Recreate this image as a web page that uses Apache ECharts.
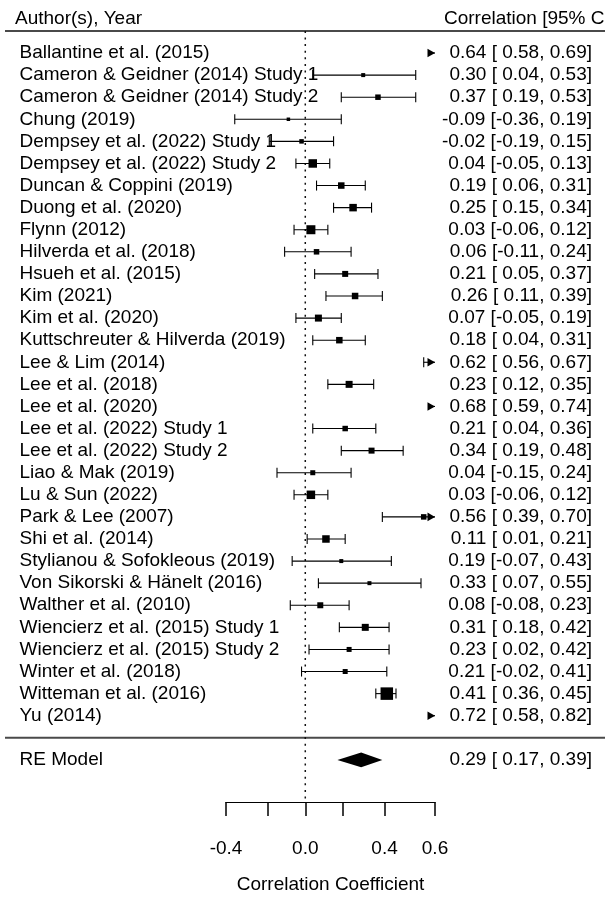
<!DOCTYPE html>
<html><head><meta charset="utf-8">
<script src="https://cdn.jsdelivr.net/npm/echarts@6/dist/echarts.min.js"></script>
<style>html,body{margin:0;padding:0;background:#fff}#c{width:605px;height:904px}</style>
</head><body><div id="c"></div>
<script>
const studies = [
  "Ballantine et al. (2015)",
  "Cameron & Geidner (2014) Study 1",
  "Cameron & Geidner (2014) Study 2",
  "Chung (2019)",
  "Dempsey et al. (2022) Study 1",
  "Dempsey et al. (2022) Study 2",
  "Duncan & Coppini (2019)",
  "Duong et al. (2020)",
  "Flynn (2012)",
  "Hilverda et al. (2018)",
  "Hsueh et al. (2015)",
  "Kim (2021)",
  "Kim et al. (2020)",
  "Kuttschreuter & Hilverda (2019)",
  "Lee & Lim (2014)",
  "Lee et al. (2018)",
  "Lee et al. (2020)",
  "Lee et al. (2022) Study 1",
  "Lee et al. (2022) Study 2",
  "Liao & Mak (2019)",
  "Lu & Sun (2022)",
  "Park & Lee (2007)",
  "Shi et al. (2014)",
  "Stylianou & Sofokleous (2019)",
  "Von Sikorski & Hänelt (2016)",
  "Walther et al. (2010)",
  "Wiencierz et al. (2015) Study 1",
  "Wiencierz et al. (2015) Study 2",
  "Winter et al. (2018)",
  "Witteman et al. (2016)",
  "Yu (2014)"
];
const estimates = [0.64, 0.30, 0.37, -0.09, -0.02, 0.04, 0.19, 0.25, 0.03, 0.06, 0.21, 0.26, 0.07, 0.18, 0.62, 0.23, 0.68, 0.21, 0.34, 0.04, 0.03, 0.56, 0.11, 0.19, 0.33, 0.08, 0.31, 0.23, 0.21, 0.41, 0.72];
const lowerCI   = [0.58, 0.04, 0.19, -0.36, -0.19, -0.05, 0.06, 0.15, -0.06, -0.11, 0.05, 0.11, -0.05, 0.04, 0.56, 0.12, 0.59, 0.04, 0.19, -0.15, -0.06, 0.39, 0.01, -0.07, 0.07, -0.08, 0.18, 0.02, -0.02, 0.36, 0.58];
const upperCI   = [0.69, 0.53, 0.53, 0.19, 0.15, 0.13, 0.31, 0.34, 0.12, 0.24, 0.37, 0.39, 0.19, 0.31, 0.67, 0.35, 0.74, 0.36, 0.48, 0.24, 0.12, 0.70, 0.21, 0.43, 0.55, 0.23, 0.42, 0.42, 0.41, 0.45, 0.82];
const weights   = [6.5, 4, 5.5, 3.5, 4.5, 8.5, 6.5, 7.5, 9, 5.5, 6, 6.5, 7, 6.5, 7.5, 7, 6.5, 5.5, 6, 5, 8.5, 5.5, 7.5, 4, 4, 6, 7, 5, 5, 12.5, 4.5];
const pooledLabel = "RE Model";
const pooledEstimate = 0.29;
const pooledLower = 0.17;
const pooledUpper = 0.39;
const tickValues = [-0.4, -0.2, 0.0, 0.2, 0.4, 0.6];
const tickLabelValues = [-0.4, 0.0, 0.4, 0.6];
const headerLeft = "Author(s), Year";
const headerRight = "Correlation [95% CI]";
const axisTitle = "Correlation Coefficient";
const refValue = 0;

// ---- build ----
const FONT = "'Liberation Sans', Arial, Helvetica, sans-serif";
const FS = 19;
const k = studies.length;
const rows = studies.map((_, i) => k - i);
const pooledRow = -1;
const zMin = Math.atanh(tickValues[0]);
const zMax = Math.atanh(tickValues[tickValues.length - 1]);
const f2 = v => v.toFixed(2);
const pad = v => (v < 0 ? f2(v) : " " + f2(v));
const annot = (e, l, u) => f2(e) + " [" + pad(l) + "," + pad(u) + "]";

const leftLabels = {}, rightLabels = {};
rows.forEach((r, i) => {
  leftLabels[r] = studies[i];
  rightLabels[r] = annot(estimates[i], lowerCI[i], upperCI[i]);
});
leftLabels[pooledRow] = pooledLabel;
rightLabels[pooledRow] = annot(pooledEstimate, pooledLower, pooledUpper);
const labelRows = rows.concat([pooledRow]);

const studyData = rows.map((r, i) => [r, Math.atanh(estimates[i]), Math.atanh(lowerCI[i]), Math.atanh(upperCI[i]), weights[i]]);
const pooledData = [[pooledRow, Math.atanh(pooledEstimate), Math.atanh(pooledLower), Math.atanh(pooledUpper)]];

// layout constants (pixels)
const ROW = 22.09, ROW0 = 737.8;           // y pixel of row 0
const yTopRow = k + 2, yBottomRow = -3;
const gridLeft = 226, gridRight = 605 - 435;
const gridTop = ROW0 - ROW * yTopRow;
const gridBottom = 904 - (ROW0 - ROW * yBottomRow);
const headerY = ROW0 - ROW * (k + 1.57);

const LINE = { stroke: "#000", lineWidth: 1.1 };
const AW = 7.5, AH = 4.3;

function renderStudy(params, api) {
  const r = api.value(0), e = api.value(1), lo = api.value(2), hi = api.value(3), w = api.value(4);
  const X = v => api.coord([v, r])[0];
  const y = api.coord([0, r])[1];
  const l = Math.max(lo, zMin), h = Math.min(hi, zMax);
  const xl = X(l), xh = X(h);
  const xMinPx = X(zMin), xMaxPx = X(zMax);
  const ch = [];
  ch.push({ type: "line", shape: { x1: xl, y1: y, x2: xh, y2: y }, style: LINE });
  if (lo >= zMin) {
    if (hi <= zMax || xl < xMaxPx - AW) ch.push({ type: "line", shape: { x1: xl, y1: y - 5, x2: xl, y2: y + 5 }, style: LINE });
  } else ch.push({ type: "polygon", shape: { points: [[xl, y], [xl + AW, y - AH], [xl + AW, y + AH]] }, style: { fill: "#000" } });
  if (hi <= zMax) {
    if (lo >= zMin || xh > xMinPx + AW) ch.push({ type: "line", shape: { x1: xh, y1: y - 5, x2: xh, y2: y + 5 }, style: LINE });
  } else ch.push({ type: "polygon", shape: { points: [[xh, y], [xh - AW, y - AH], [xh - AW, y + AH]] }, style: { fill: "#000" } });
  if (e >= zMin && e <= zMax) {
    const xe = X(e);
    ch.push({ type: "rect", shape: { x: xe - w / 2, y: y - w / 2, width: w, height: w }, style: { fill: "#000" } });
  }
  return { type: "group", children: ch };
}

function renderPooled(params, api) {
  const r = api.value(0);
  const pe = api.coord([api.value(1), r]), pl = api.coord([api.value(2), r]), ph = api.coord([api.value(3), r]);
  const hh = 7.3;
  return { type: "polygon", shape: { points: [[pl[0], pl[1]], [pe[0], pe[1] - hh], [ph[0], ph[1]], [pe[0], pe[1] + hh]] }, style: { fill: "#000" } };
}

function renderRef(params, api) {
  const a = api.coord([api.value(0), api.value(1)]), b = api.coord([api.value(0), api.value(2)]);
  return { type: "line", shape: { x1: a[0], y1: a[1], x2: b[0], y2: b[1] }, style: { stroke: "#111", lineWidth: 1.5, lineDash: [2, 4.6] } };
}

function renderRule(params, api) {
  const y = api.coord([0, api.value(0)])[1];
  return { type: "line", shape: { x1: 5, y1: y, x2: api.getWidth(), y2: y }, style: { stroke: "#4a4a4a", lineWidth: 2 } };
}

const chart = echarts.init(document.getElementById("c"), null, { renderer: "canvas" });
chart.setOption({
  animation: false,
  backgroundColor: "#fff",
  textStyle: { fontFamily: FONT },
  grid: [
    { left: gridLeft, right: gridRight, top: gridTop, bottom: gridBottom, outerBoundsMode: "none", containLabel: false },
    { left: gridLeft, right: gridRight, top: 790, height: 12, outerBoundsMode: "none", containLabel: false }
  ],
  xAxis: [
    { gridIndex: 0, type: "value", min: zMin, max: zMax, show: false },
    {
      gridIndex: 1, type: "value", min: zMin, max: zMax,
      axisLine: { show: true, lineStyle: { color: "#000", width: 1.2 } },
      axisTick: { show: true, length: 14, customValues: tickValues.map(Math.atanh), lineStyle: { color: "#000", width: 1.5 } },
      axisLabel: {
        show: true, customValues: tickLabelValues.map(Math.atanh), margin: 37.5,
        formatter: v => Math.tanh(v).toFixed(1), color: "#000", fontSize: FS, fontFamily: FONT
      },
      splitLine: { show: false },
      name: axisTitle, nameLocation: "middle", nameGap: 73.5,
      nameTextStyle: { color: "#000", fontSize: FS, fontFamily: FONT }
    }
  ],
  yAxis: [
    {
      gridIndex: 0, type: "value", min: yBottomRow, max: yTopRow, position: "left",
      axisLine: { show: false }, axisTick: { show: false }, splitLine: { show: false },
      axisLabel: {
        show: true, customValues: labelRows, align: "left", margin: gridLeft - 19.5,
        formatter: v => leftLabels[Math.round(v)] || "", color: "#000", fontSize: FS, fontFamily: FONT
      }
    },
    {
      gridIndex: 0, type: "value", min: yBottomRow, max: yTopRow, position: "right",
      axisLine: { show: false }, axisTick: { show: false }, splitLine: { show: false },
      axisLabel: {
        show: true, customValues: labelRows, align: "right", margin: 592 - 435,
        formatter: v => rightLabels[Math.round(v)] || "", color: "#000", fontSize: FS, fontFamily: FONT
      }
    },
    { gridIndex: 1, type: "value", show: false, min: 0, max: 1 }
  ],
  graphic: [
    { type: "text", x: 15, y: headerY, style: { text: headerLeft, font: FS + "px " + FONT, fill: "#000", align: "left", verticalAlign: "middle" } },
    { type: "text", x: 444, y: headerY, style: { text: headerRight, font: FS + "px " + FONT, fill: "#000", align: "left", verticalAlign: "middle" } }
  ],
  series: [
    { type: "custom", name: "rules", xAxisIndex: 0, yAxisIndex: 0, silent: true, clip: false, renderItem: renderRule, data: [[k + 1], [0]], encode: { y: 0 } },
    { type: "custom", name: "ref", xAxisIndex: 0, yAxisIndex: 0, silent: true, clip: false, renderItem: renderRef, data: [[refValue, k + 1, -2.8]], encode: { x: 0, y: [1, 2] } },
    { type: "custom", name: "studies", xAxisIndex: 0, yAxisIndex: 0, silent: true, clip: false, renderItem: renderStudy, data: studyData, encode: { x: [1, 2, 3], y: 0 } },
    { type: "custom", name: "pooled", xAxisIndex: 0, yAxisIndex: 0, silent: true, clip: false, renderItem: renderPooled, data: pooledData, encode: { x: [1, 2, 3], y: 0 } }
  ]
});
</script>
</body></html>
